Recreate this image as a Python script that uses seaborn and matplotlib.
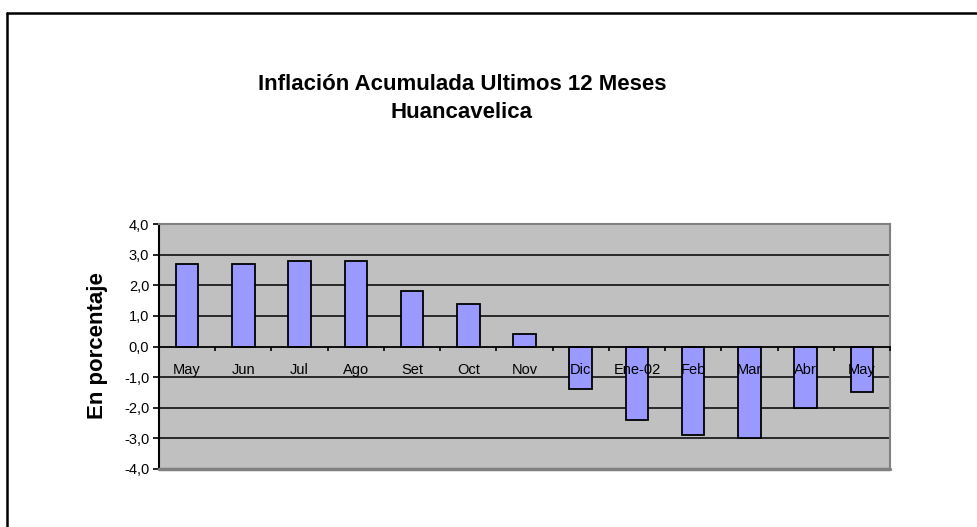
import matplotlib
matplotlib.use("Agg")
import matplotlib.pyplot as plt
import seaborn as sns
import pandas as pd
import numpy as np
from matplotlib.lines import Line2D
from matplotlib.ticker import FixedLocator, FuncFormatter

# ---- data ----
months = ["May", "Jun", "Jul", "Ago", "Set", "Oct", "Nov", "Dic", "Ene-02", "Feb", "Mar", "Abr", "May"]
values = [2.7, 2.7, 2.8, 2.8, 1.8, 1.4, 0.4, -1.4, -2.4, -2.9, -3.0, -2.0, -1.5]
y_ticks = [-4, -3, -2, -1, 0, 1, 2, 3, 4]
title_line1 = "Inflación Acumulada Ultimos 12 Meses"
title_line2 = "Huancavelica"
y_label = "En porcentaje"

df = pd.DataFrame({"pos": list(range(len(months))), "val": values})

sns.set_theme(style="white")
plt.rcParams["font.family"] = ["Liberation Sans", "DejaVu Sans"]

W, H = 978, 527
fig = plt.figure(figsize=(W / 100, H / 100), dpi=100)
fig.patch.set_facecolor("white")

ax_l, ax_r, ax_t, ax_b = 159, 890, 224, 469
ax = fig.add_axes([ax_l / W, 1 - ax_b / H, (ax_r - ax_l) / W, (ax_b - ax_t) / H])
ax.set_facecolor("#C0C0C0")

sns.barplot(data=df, x="pos", y="val", color="#9999FF", width=0.4,
            edgecolor="black", linewidth=1.3, saturation=1, ax=ax, zorder=3)

n = len(months)
ax.set_xlim(-0.5, n - 0.5)
ax.set_ylim(-4, 4)

# gridlines
for yv in y_ticks:
    if yv not in (-4, 0, 4):
        ax.axhline(yv, color="black", lw=1.1, zorder=1)

# spines
for s in ("top", "right"):
    ax.spines[s].set_color("#808080")
    ax.spines[s].set_linewidth(1.5)
ax.spines["left"].set_color("black")
ax.spines["left"].set_linewidth(1.5)
ax.spines["bottom"].set_position(("data", 0))
ax.spines["bottom"].set_color("black")
ax.spines["bottom"].set_linewidth(1.3)
ax.spines["bottom"].set_zorder(4)
ax.axhline(-4, color="#808080", lw=2.5, clip_on=False, zorder=5)

# x ticks: major at boundaries, labels at centers
ax.xaxis.set_major_locator(FixedLocator(np.arange(-0.5, n, 1.0)))
ax.xaxis.set_major_formatter(FuncFormatter(lambda v, p: ""))
ax.xaxis.set_minor_locator(FixedLocator(np.arange(0, n, 1.0)))
ax.xaxis.set_minor_formatter(FuncFormatter(lambda v, p: months[int(round(v))]))
ax.tick_params(axis="x", which="major", direction="out", length=3, width=1.2, color="black", bottom=True)
ax.tick_params(axis="x", which="minor", length=0, pad=12, labelsize=10.5, labelcolor="black", bottom=True)
ax.xaxis.set_zorder(6)

ax.set_yticks(y_ticks)
ax.set_yticklabels([f"{v:.1f}".replace(".", ",") for v in y_ticks])
ax.tick_params(axis="y", direction="out", length=4, width=1.2, color="black", left=True,
               labelsize=10.5, labelcolor="black", pad=3)
ax.set_xlabel("")
ax.set_ylabel("")

# titles
fig.text(462 / W, 1 - 84 / H, title_line1, ha="center", va="center", fontsize=16, fontweight="bold", color="black")
fig.text(462 / W, 1 - 113 / H, title_line2, ha="center", va="center", fontsize=16, fontweight="bold", color="black")
fig.text(97 / W, 1 - 346 / H, y_label, ha="center", va="center", rotation=90, fontsize=16, fontweight="bold", color="black")

# outer frame (clipped by image edges)
fig.add_artist(Line2D([7.5 / W, 7.5 / W], [0, 1 - 13 / H], color="black", lw=1.8, transform=fig.transFigure))
fig.add_artist(Line2D([7.5 / W, 1], [1 - 13 / H, 1 - 13 / H], color="black", lw=1.8, transform=fig.transFigure))

fig.savefig("out.png", dpi=100)
